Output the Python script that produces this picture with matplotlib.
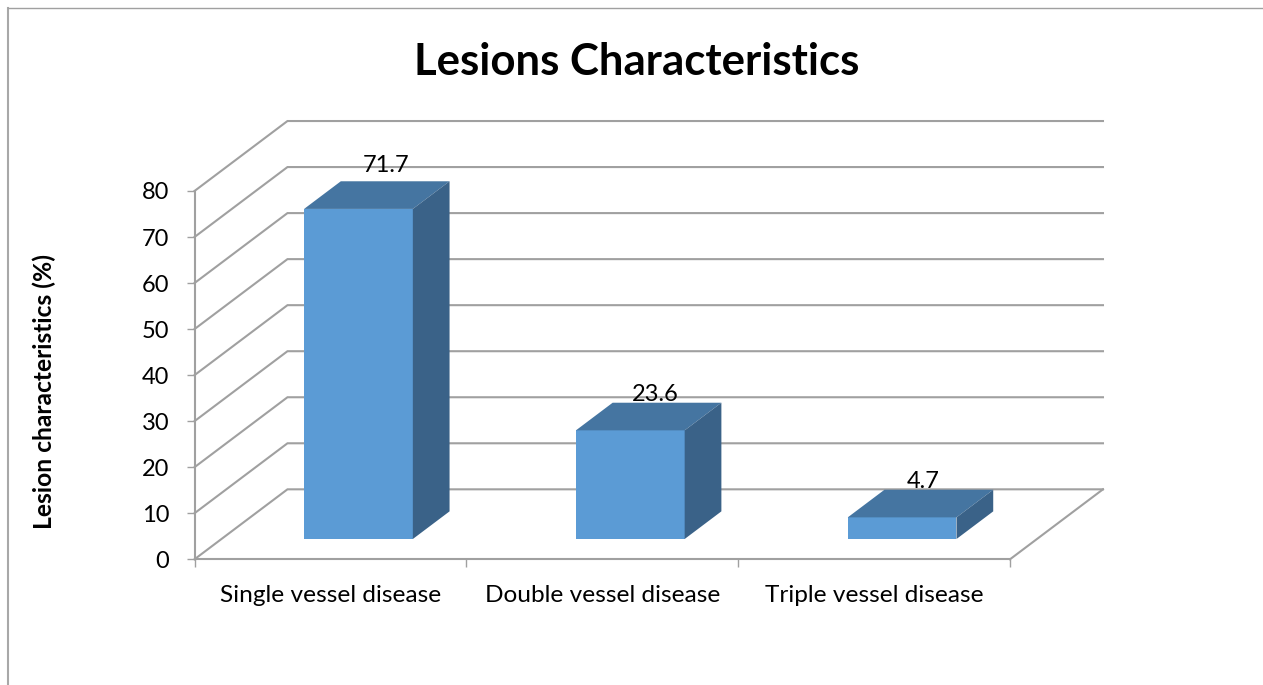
import matplotlib
matplotlib.use("Agg")
import matplotlib.pyplot as plt
from matplotlib.lines import Line2D

categories = ["Single vessel disease", "Double vessel disease", "Triple vessel disease"]
values = [71.7, 23.6, 4.7]
y_ticks = [0, 10, 20, 30, 40, 50, 60, 70, 80]

GRID = "#a0a0a0"
FRONT = "#5b9bd5"
TOP = "#4575a1"
SIDE = "#3a6288"

# oblique depth of the fake 3d box, in data units
DEPTH_X = 0.342
DEPTH_Y = 15.2
BAR_WIDTH = 0.4
BAR_SHIFT = 0.004
BAR_START = 0.29
BAR_DEPTH = 0.395

# value labels sit a bit off the bar top in the original (points)
label_nudge = [(7, 6.5), (4.7, 1.5), (2.2, 1.5)]

plt.rcParams["font.family"] = ["Lato", "DejaVu Sans"]


def shift(x, y, d):
    return x + d * DEPTH_X, y + d * DEPTH_Y


fig = plt.figure(figsize=(12.63, 6.85), dpi=100)
ax = fig.add_axes([194.5 / 1263, 125.7 / 685, 815.5 / 1263, 368.3 / 685])
ax.set_xlim(0, 3)
ax.set_ylim(0, 80)
ax.patch.set_visible(False)

# walls and floor
for t in y_ticks:
    bx, by = shift(0, t, 1)
    ax.plot([0, bx, 3 + DEPTH_X], [t, by, by], color=GRID, lw=1.5, clip_on=False, zorder=1,
            solid_joinstyle="miter")
ax.plot([3, 3 + DEPTH_X], [0, DEPTH_Y], color=GRID, lw=1.5, clip_on=False, zorder=1)

for i, v in enumerate(values):
    x0 = i + 0.5 + BAR_SHIFT - BAR_WIDTH / 2
    x1 = i + 0.5 + BAR_SHIFT + BAR_WIDTH / 2
    fx0, fy0 = shift(x0, 0, BAR_START)
    fx1, fy1 = shift(x1, v, BAR_START)
    bx0, by0 = shift(x0, 0, BAR_START + BAR_DEPTH)
    bx1, by1 = shift(x1, v, BAR_START + BAR_DEPTH)
    ax.fill([fx0, fx1, fx1, fx0], [fy0, fy0, fy1, fy1], color=FRONT, lw=0, clip_on=False, zorder=3)
    ax.fill([fx0, fx1, bx1, bx0], [fy1, fy1, by1, by1], color=TOP, lw=0, clip_on=False, zorder=3)
    ax.fill([fx1, bx1, bx1, fx1], [fy0, by0, by1, fy1], color=SIDE, lw=0, clip_on=False, zorder=3)
    ax.annotate(str(v), ((fx0 + bx1) / 2, by1), xytext=label_nudge[i], textcoords="offset points",
                ha="center", va="baseline", fontsize=17, color="black", zorder=4,
                annotation_clip=False)

for s in ["top", "right"]:
    ax.spines[s].set_visible(False)
for s in ["left", "bottom"]:
    ax.spines[s].set_color(GRID)
    ax.spines[s].set_linewidth(1.5)

ax.set_yticks(y_ticks)
ax.tick_params(axis="y", length=6, width=1, color=GRID, pad=12, labelsize=17)
ax.set_xticks([0, 1, 2, 3])
ax.set_xticklabels([])
ax.tick_params(axis="x", which="major", length=6, width=1, color=GRID)
ax.set_xticks([0.5, 1.5, 2.5], minor=True)
ax.set_xticklabels(categories, minor=True, fontsize=17.6)
ax.tick_params(axis="x", which="minor", length=0, pad=18.5)

fig.text(637 / 1263, 1 - 62 / 685, "Lesions Characteristics", fontsize=31.5, fontweight="bold",
         ha="center", va="center")
fig.text(44 / 1263, 1 - 391.5 / 685, "Lesion characteristics (%)", fontsize=17.75, fontweight="bold",
         rotation=90, ha="center", va="center")

# outer chart border, cut off at the right and bottom
fig.add_artist(Line2D([8 / 1263, 8 / 1263], [0, 1 - 8 / 685], color="#a8a8a8", lw=1.5))
fig.add_artist(Line2D([8 / 1263, 1], [1 - 8 / 685, 1 - 8 / 685], color="#a0a0a0", lw=1))

fig.savefig("out.png", dpi=100)
